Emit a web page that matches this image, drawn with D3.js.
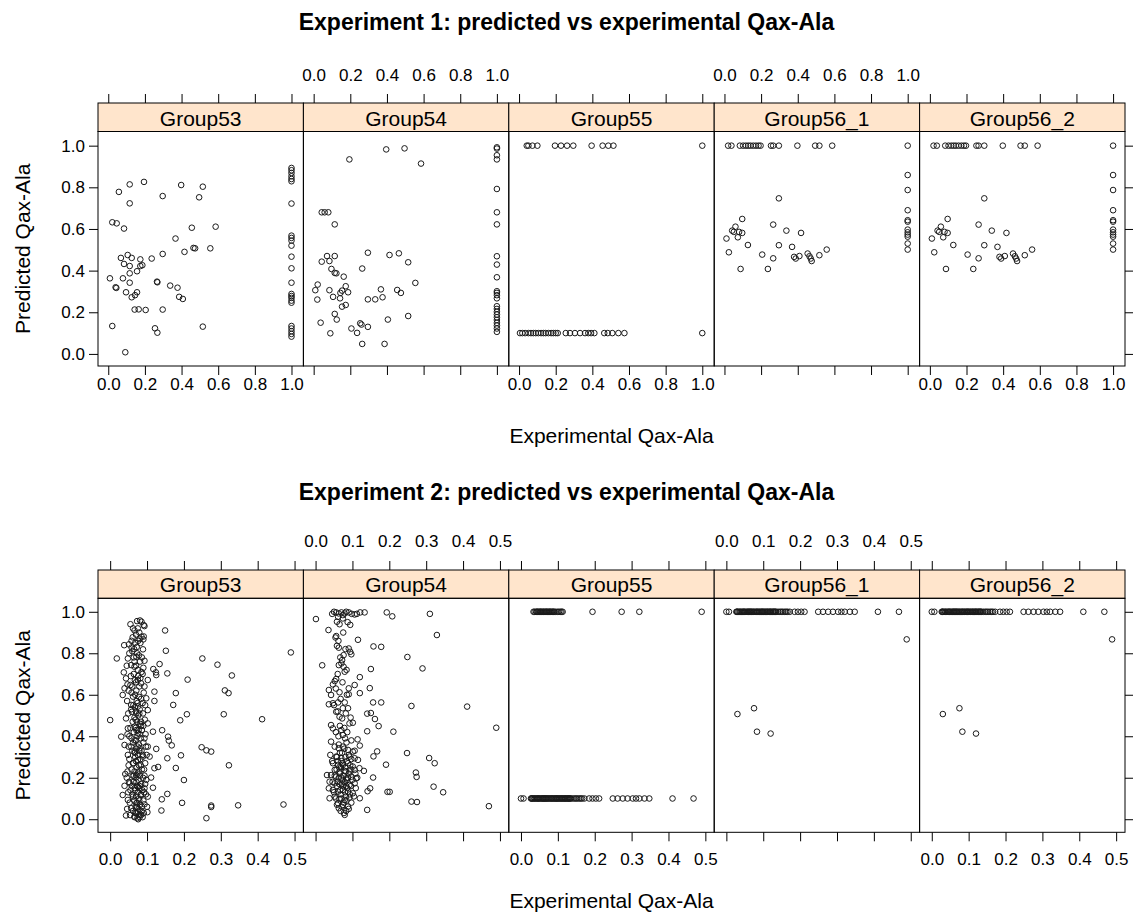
<!DOCTYPE html>
<html>
<head>
<meta charset="utf-8">
<script src="https://cdn.jsdelivr.net/npm/d3@7"></script>
<style>
  body { margin: 0; background: #fff; }
  text { font-family: "Liberation Sans", Arial, sans-serif; }
</style>
</head>
<body>
<script>
// ---- data ----
const groups = ["Group53", "Group54", "Group55", "Group56_1", "Group56_2"];
const e1Ticks = [0, 0.2, 0.4, 0.6, 0.8, 1.0];
const e2Ticks = [0, 0.1, 0.2, 0.3, 0.4, 0.5];
const yTicks = [0, 0.2, 0.4, 0.6, 0.8, 1.0];

// experiment 1, [experimental, predicted]
const e1g53 = [[0.195,0.826],[0.117,0.814],[0.398,0.811],[0.516,0.803],[0.058,0.778],[0.297,0.758],[0.496,0.752],[0.117,0.723],
  [0.022,0.632],[0.046,0.627],[0.086,0.602],[0.456,0.606],[0.586,0.611],[0.367,0.554],[0.465,0.509],[0.474,0.507],[0.557,0.507],
  [0.416,0.490],[0.297,0.480],[0.106,0.475],[0.069,0.461],[0.128,0.461],[0.175,0.454],[0.237,0.458],[0.086,0.432],[0.117,0.422],
  [0.186,0.426],[0.175,0.422],[0.157,0.397],[0.117,0.387],[0.009,0.363],[0.080,0.363],[0.117,0.342],[0.040,0.320],[0.044,0.317],
  [0.266,0.347],[0.268,0.344],[0.338,0.328],[0.378,0.318],[0.097,0.296],[0.157,0.296],[0.146,0.282],[0.128,0.272],[0.387,0.274],
  [0.407,0.264],[0.144,0.213],[0.166,0.214],[0.204,0.211],[0.297,0.213],[0.022,0.134],[0.255,0.123],[0.268,0.102],[0.516,0.131],
  [0.093,0.008],
  [1,0.893],[1,0.882],[1,0.869],[1,0.853],[1,0.840],[1,0.829],[1,0.722],[1,0.568],[1,0.557],[1,0.544],[1,0.520],[1,0.467],
  [1,0.411],[1,0.342],[1,0.288],[1,0.278],[1,0.269],[1,0.256],[1,0.246],[1,0.134],[1,0.122],[1,0.109],[1,0.096],[1,0.083]];

const e1g54 = [[0.396,0.982],[0.496,0.987],[0.195,0.934],[0.586,0.914],[0.044,0.680],[0.060,0.680],[0.080,0.680],[0.115,0.622],
  [0.296,0.486],[0.414,0.475],[0.465,0.483],[0.073,0.470],[0.115,0.470],[0.044,0.443],[0.086,0.446],[0.516,0.440],[0.097,0.408],
  [0.265,0.410],[0.115,0.389],[0.124,0.387],[0.164,0.371],[0.022,0.333],[0.175,0.325],[0.009,0.306],[0.086,0.306],[0.155,0.304],
  [0.146,0.293],[0.188,0.296],[0.367,0.310],[0.456,0.307],[0.476,0.293],[0.555,0.341],[0.106,0.274],[0.144,0.267],[0.020,0.261],
  [0.376,0.272],[0.296,0.262],[0.336,0.262],[0.155,0.227],[0.175,0.235],[0.115,0.192],[0.126,0.165],[0.038,0.150],[0.516,0.182],
  [0.405,0.165],[0.254,0.147],[0.261,0.141],[0.296,0.130],[0.206,0.122],[0.237,0.101],[0.091,0.099],[0.265,0.048],[0.387,0.048],
  [1,0.992],[1,0.986],[1,0.954],[1,0.934],[1,0.792],[1,0.680],[1,0.622],[1,0.469],[1,0.429],[1,0.368],[1,0.301],[1,0.293],
  [1,0.282],[1,0.267],[1,0.229],[1,0.216],[1,0.202],[1,0.189],[1,0.176],[1,0.163],[1,0.149],[1,0.136],[1,0.122],[1,0.106]];

const e1g55 = [[0.042,1],[0.051,1],[0.073,1],[0.100,1],[0.196,1],[0.229,1],[0.262,1],[0.296,1],[0.396,1],[0.456,1],[0.487,1],
  [0.515,1],[1,1],
  [0.005,0.1],[0.018,0.1],[0.033,0.1],[0.051,0.1],[0.065,0.1],[0.078,0.1],[0.091,0.1],[0.105,0.1],[0.120,0.1],[0.133,0.1],
  [0.145,0.1],[0.160,0.1],[0.175,0.1],[0.187,0.1],[0.200,0.1],[0.211,0.1],[0.255,0.1],[0.278,0.1],[0.305,0.1],[0.333,0.1],
  [0.360,0.1],[0.378,0.1],[0.393,0.1],[0.411,0.1],[0.465,0.1],[0.484,0.1],[0.509,0.1],[0.542,0.1],[0.575,0.1],[1,0.1]];

const e1g56 = [[0.020,1],[0.038,1],[0.084,1],[0.102,1],[0.117,1],[0.130,1],[0.142,1],[0.157,1],[0.172,1],[0.186,1],[0.197,1],
  [0.254,1],[0.266,1],[0.297,1],[0.398,1],[0.495,1],[0.518,1],[0.588,1],[1,1],
  [0.297,0.747],[0.097,0.648],[0.266,0.621],[0.060,0.611],[0.338,0.592],[0.418,0.581],[0.042,0.592],[0.051,0.586],[0.080,0.586],
  [0.097,0.581],[0.073,0.560],[0.011,0.554],[0.128,0.523],[0.297,0.522],[0.369,0.514],[0.024,0.488],[0.206,0.477],[0.266,0.459],
  [0.380,0.466],[0.409,0.470],[0.389,0.458],[0.454,0.482],[0.464,0.469],[0.471,0.458],[0.476,0.446],[0.518,0.474],[0.558,0.501],
  [0.088,0.408],[0.237,0.408],
  [1,0.859],[1,0.787],[1,0.690],[1,0.642],[1,0.635],[1,0.597],[1,0.584],[1,0.573],[1,0.563],[1,0.530],[1,0.501]];

// experiment 2
const e2g53 = [[0.149,0.910],[0.151,0.812],[0.250,0.775],[0.291,0.745],[0.330,0.693],[0.210,0.673],[0.178,0.608],[0.311,0.621],
  [0.321,0.608],[0.171,0.551],[0.208,0.506],[0.190,0.477],[0.308,0.506],[0.412,0.482],[0.490,0.804],[0.0,0.478],[0.141,0.429],
  [0.157,0.398],[0.159,0.379],[0.167,0.356],[0.248,0.347],[0.261,0.332],[0.274,0.326],[0.192,0.308],[0.155,0.294],[0.322,0.260],
  [0.178,0.247],[0.130,0.252],[0.200,0.189],[0.155,0.122],[0.140,0.096],[0.195,0.079],[0.274,0.066],[0.274,0.059],[0.347,0.067],
  [0.470,0.071],[0.261,0.005],[0.139,0.042],[0.030,0.398],
  [0.073,0.955],[0.081,0.958],[0.085,0.952],[0.091,0.936],[0.093,0.931],[0.075,0.920],[0.061,0.877],[0.091,0.881],[0.090,0.867],
  [0.038,0.839],[0.051,0.843],[0.058,0.828],[0.089,0.819],[0.018,0.775],[0.048,0.775],[0.071,0.783],[0.093,0.764],[0.057,0.743],
  [0.066,0.735],[0.037,0.708],[0.117,0.724],[0.124,0.708],[0.134,0.748],[0.043,0.679],[0.075,0.671],[0.102,0.671],[0.125,0.695],
  [0.155,0.703],[0.055,0.647],[0.084,0.655],[0.039,0.631],[0.120,0.615],[0.034,0.599],[0.062,0.591],[0.098,0.583],[0.120,0.570],
  [0.057,0.551],[0.075,0.543],[0.102,0.526],[0.059,0.518],[0.071,0.510],[0.043,0.486],[0.084,0.470],[0.102,0.462],[0.066,0.446],
  [0.048,0.438],[0.116,0.422],[0.075,0.414],[0.093,0.390],[0.039,0.358],[0.057,0.350],[0.080,0.342],[0.102,0.350],[0.125,0.339],
  [0.066,0.326],[0.048,0.310],[0.089,0.302],[0.107,0.302],[0.075,0.286],[0.062,0.270],[0.120,0.246],[0.041,0.218],[0.071,0.213],
  [0.093,0.210],[0.111,0.201],[0.053,0.173],[0.039,0.161],[0.075,0.157],[0.093,0.149],[0.116,0.152],[0.034,0.117],[0.062,0.109],
  [0.084,0.117],[0.102,0.109],[0.048,0.093],[0.071,0.077],[0.093,0.072],[0.057,0.053],[0.075,0.037],[0.043,0.018],[0.066,0.013],
  [0.084,0.021],[0.101,0.034],
  [0.068,0.60],[0.078,0.59],[0.072,0.57],[0.063,0.55],[0.080,0.53],[0.070,0.52],[0.076,0.50],[0.066,0.49],[0.073,0.47],[0.081,0.46],
  [0.069,0.44],[0.077,0.43],[0.064,0.42],[0.074,0.40],[0.083,0.39],[0.070,0.38],[0.062,0.37],[0.078,0.36],[0.071,0.34],[0.085,0.33],
  [0.067,0.32],[0.075,0.31],[0.082,0.29],[0.070,0.28],[0.063,0.27],[0.078,0.26],[0.072,0.25],[0.086,0.24],[0.066,0.23],[0.074,0.22],
  [0.081,0.21],[0.069,0.20],[0.077,0.19],[0.063,0.18],[0.084,0.17],[0.072,0.16],[0.079,0.15],[0.067,0.14],[0.075,0.13],[0.083,0.12],
  [0.070,0.11],[0.078,0.10],[0.065,0.09],[0.073,0.08],[0.081,0.07],[0.069,0.06],[0.077,0.05],[0.085,0.04],[0.071,0.03],[0.079,0.02],
  [0.066,0.01],[0.074,0.005],[0.088,0.01],[0.060,0.64],[0.070,0.66],[0.082,0.68],[0.064,0.70],[0.075,0.72],[0.066,0.76],[0.078,0.79],
  [0.060,0.81],[0.072,0.83],[0.082,0.85],[0.058,0.86],[0.070,0.89],[0.079,0.90],[0.050,0.26],[0.045,0.20],[0.055,0.14],[0.095,0.27],
  [0.098,0.19],[0.092,0.13],[0.100,0.06],[0.046,0.05],[0.090,0.45],[0.052,0.40],[0.088,0.56],[0.050,0.62],
  [0.055,0.94],[0.062,0.92],[0.080,0.87],[0.068,0.85],[0.052,0.80],[0.086,0.78],[0.064,0.78],[0.045,0.74],[0.090,0.73],[0.056,0.69],
  [0.088,0.70],[0.047,0.65],[0.093,0.64],[0.058,0.61],[0.091,0.61],[0.046,0.57],[0.095,0.55],[0.057,0.53],[0.089,0.51],[0.049,0.51],
  [0.061,0.47],[0.094,0.48],[0.055,0.44],[0.086,0.43],[0.047,0.41],[0.096,0.41],[0.058,0.39],[0.090,0.37],[0.050,0.35],[0.097,0.35],
  [0.060,0.33],[0.088,0.31],[0.052,0.29],[0.099,0.31],[0.058,0.24],[0.092,0.24],[0.047,0.23],[0.061,0.21],[0.089,0.20],[0.051,0.18],
  [0.095,0.17],[0.059,0.16],[0.087,0.14],[0.049,0.13],[0.097,0.12],[0.060,0.12],[0.090,0.09],[0.053,0.08],[0.086,0.06],[0.062,0.04],
  [0.091,0.03],[0.054,0.02],[0.080,0.01],[0.076,0.0],[0.068,0.03],[0.073,0.06],[0.079,0.09],[0.067,0.15],[0.080,0.16],[0.071,0.18],
  [0.064,0.21],[0.077,0.23],[0.083,0.26],[0.068,0.30],[0.079,0.33],[0.074,0.35],[0.066,0.38],[0.080,0.41],[0.071,0.43],[0.084,0.45],
  [0.069,0.48],[0.079,0.51],[0.067,0.54],[0.074,0.56],[0.084,0.58],[0.071,0.62],[0.079,0.64],[0.067,0.67],[0.076,0.69],[0.085,0.71],
  [0.070,0.74],[0.081,0.76],[0.073,0.80],[0.065,0.82],[0.076,0.86],[0.085,0.88],[0.066,0.91]];

const e2g54 = [[0.001,0.965],[0.035,0.912],[0.094,0.937],[0.115,0.865],[0.157,0.833],[0.178,0.831],[0.193,0.997],[0.208,0.978],
  [0.310,0.990],[0.329,0.888],[0.249,0.782],[0.290,0.727],[0.018,0.742],[0.150,0.724],[0.120,0.685],[0.147,0.632],[0.120,0.608],
  [0.156,0.563],[0.178,0.563],[0.260,0.546],[0.411,0.543],[0.490,0.441],[0.140,0.509],[0.150,0.512],[0.161,0.483],[0.171,0.449],
  [0.140,0.424],[0.211,0.422],[0.114,0.385],[0.120,0.355],[0.167,0.327],[0.157,0.303],[0.248,0.319],[0.308,0.295],[0.323,0.270],
  [0.191,0.263],[0.131,0.233],[0.156,0.201],[0.272,0.225],[0.274,0.204],[0.320,0.157],[0.346,0.130],[0.195,0.132],[0.201,0.132],
  [0.141,0.135],[0.148,0.149],[0.120,0.101],[0.260,0.085],[0.275,0.083],[0.470,0.063],[0.140,0.045],[0.031,0.213],
  [0.050,1.0],[0.056,0.997],[0.063,0.992],[0.070,0.997],[0.074,0.984],[0.079,0.992],[0.083,1.0],[0.090,0.997],[0.074,0.968],
  [0.061,0.976],[0.106,0.987],[0.121,0.997],[0.133,0.997],[0.058,0.952],
  [0.056,0.883],[0.054,0.876],[0.058,0.836],[0.063,0.827],[0.090,0.823],[0.094,0.807],[0.097,0.795],[0.076,0.791],[0.072,0.767],
  [0.070,0.751],[0.063,0.743],[0.076,0.735],[0.079,0.711],[0.056,0.676],[0.052,0.666],[0.047,0.650],[0.106,0.647],[0.090,0.631],
  [0.090,0.602],[0.065,0.612],[0.036,0.623],[0.042,0.599],[0.036,0.554],[0.047,0.559],[0.061,0.563],[0.079,0.563],[0.074,0.535],
  [0.088,0.535],[0.056,0.518],[0.065,0.494],[0.072,0.486],[0.092,0.462],[0.101,0.465],[0.042,0.454],[0.047,0.438],[0.070,0.430],
  [0.074,0.406],[0.042,0.374],[0.052,0.350],[0.063,0.342],[0.074,0.350],[0.088,0.334],[0.101,0.326],[0.040,0.310],[0.056,0.302],
  [0.070,0.294],[0.092,0.302],[0.106,0.294],[0.115,0.286],[0.047,0.270],[0.061,0.262],[0.074,0.262],[0.088,0.270],[0.101,0.254],
  [0.052,0.238],[0.065,0.230],[0.079,0.233],[0.092,0.230],[0.106,0.238],[0.119,0.246],[0.042,0.213],[0.056,0.205],[0.070,0.201],
  [0.083,0.197],[0.097,0.205],[0.110,0.197],[0.038,0.181],[0.052,0.173],[0.065,0.169],[0.079,0.178],[0.092,0.165],[0.106,0.173],
  [0.036,0.149],[0.047,0.141],[0.061,0.133],[0.074,0.141],[0.088,0.133],[0.101,0.125],[0.038,0.101],[0.052,0.109],[0.065,0.098],
  [0.079,0.093],[0.092,0.104],[0.061,0.077],[0.074,0.069],[0.088,0.061],[0.063,0.053],[0.079,0.021],
  [0.070,0.28],[0.080,0.25],[0.066,0.22],[0.085,0.19],[0.075,0.16],[0.068,0.12],[0.082,0.11],[0.060,0.18],[0.090,0.22],[0.072,0.32],
  [0.084,0.37],[0.062,0.40],[0.078,0.44],[0.058,0.30],[0.094,0.26],[0.076,0.08],[0.086,0.15],[0.064,0.25],[0.073,0.19],[0.081,0.30],
  [0.066,0.32],[0.078,0.34],[0.090,0.31],[0.060,0.28],[0.073,0.27],[0.085,0.28],[0.097,0.29],[0.057,0.24],[0.069,0.25],[0.082,0.23],
  [0.095,0.24],[0.108,0.22],[0.052,0.21],[0.063,0.20],[0.076,0.21],[0.088,0.20],[0.100,0.19],[0.113,0.20],[0.046,0.18],[0.058,0.16],
  [0.071,0.17],[0.083,0.16],[0.096,0.16],[0.109,0.15],[0.050,0.13],[0.067,0.14],[0.080,0.13],[0.093,0.12],[0.104,0.11],[0.055,0.10],
  [0.070,0.10],[0.084,0.09],[0.097,0.08],[0.058,0.07],[0.071,0.06],[0.083,0.04],[0.068,0.04],[0.077,0.03],[0.090,0.05],[0.045,0.28],
  [0.106,0.33],[0.063,0.36],[0.080,0.39],[0.097,0.38],[0.055,0.42],[0.086,0.42],[0.066,0.45],[0.095,0.49],[0.060,0.52],[0.082,0.51],
  [0.050,0.55],[0.068,0.58],[0.085,0.60],[0.055,0.63],[0.073,0.66],[0.060,0.70],[0.084,0.72],[0.067,0.78],[0.081,0.82],[0.062,0.86],
  [0.075,0.90],[0.087,0.95],[0.065,0.94],[0.098,0.99],[0.112,0.99],[0.045,0.99]];

// Group55: predicted 1.0 for these experimental values
const e2g55Hi = [0.034,0.037,0.041,0.043,0.045,0.047,0.050,0.052,0.054,0.056,0.059,0.061,0.063,0.066,0.068,0.070,0.072,0.075,
  0.077,0.079,0.081,0.084,0.086,0.088,0.090,0.094,0.099,0.103,0.107,0.110,0.113,0.194,0.273,0.321,0.490];
// long row: Group55 predicted 0.1, Group56 predicted 1.0
const e2Row = [0.0,0.007,0.027,0.029,0.030,0.033,0.036,0.038,0.041,0.044,0.046,0.048,0.050,0.053,0.056,0.058,0.060,0.062,0.064,
  0.066,0.068,0.070,0.073,0.075,0.078,0.081,0.083,0.085,0.088,0.090,0.093,0.095,0.097,0.099,0.101,0.104,0.106,0.109,0.111,
  0.113,0.116,0.118,0.120,0.122,0.125,0.127,0.129,0.131,0.133,0.135,0.140,0.145,0.149,0.153,0.158,0.162,0.166,0.172,0.185,
  0.194,0.203,0.212,0.249,0.262,0.276,0.289,0.303,0.312,0.321,0.335,0.348,0.411,0.468];
// Group56 (both) extra points
const e2g56Mid = [[0.489,0.867],[0.030,0.507],[0.075,0.535],[0.083,0.422],[0.120,0.413]];

const e2g55 = e2g55Hi.map(v => [v, 1]).concat(e2Row.map(v => [v, 0.1]));
const e2g56 = e2Row.map(v => [v, 1]).concat(e2g56Mid);

// ---- layout ----
const width = 1133, height = 914;
const plotLeft = 98, plotRight = 1125;
const pw = (plotRight - plotLeft) / groups.length;

const svg = d3.select("body").append("svg")
  .attr("width", width).attr("height", height)
  .style("background", "#ffffff");

const drawExperiment = (opt) => {
  const y = d3.scaleLinear().domain(opt.yDomain).range([opt.panelBottom, opt.panelTop]);
  const fmt = d3.format(".1f");

  svg.append("text")
    .attr("x", width / 2).attr("y", opt.titleY)
    .attr("text-anchor", "middle").attr("font-size", 23).attr("font-weight", "bold")
    .text(opt.title);

  opt.series.forEach((pts, i) => {
    const x0 = plotLeft + i * pw;
    const x = d3.scaleLinear().domain(opt.xDomain).range([x0, x0 + pw]);

    // strip
    svg.append("rect")
      .attr("x", x0).attr("y", opt.stripTop)
      .attr("width", pw).attr("height", opt.panelTop - opt.stripTop)
      .attr("fill", "#ffe5cc").attr("stroke", "#000").attr("stroke-width", 1);
    svg.append("text")
      .attr("x", x0 + pw / 2).attr("y", opt.panelTop - 6)
      .attr("text-anchor", "middle").attr("font-size", 21)
      .text(groups[i]);

    // points
    svg.append("g").selectAll("circle").data(pts).enter().append("circle")
      .attr("cx", d => x(d[0])).attr("cy", d => y(d[1]))
      .attr("r", 2.8).attr("fill", "none")
      .attr("stroke", "#1a1a1a").attr("stroke-width", 1);

    // panel frame
    svg.append("rect")
      .attr("x", x0).attr("y", opt.panelTop)
      .attr("width", pw).attr("height", opt.panelBottom - opt.panelTop)
      .attr("fill", "none").attr("stroke", "#000").attr("stroke-width", 1);

    // alternating x axes (labels bottom for 1,3,5 and top for 2,4)
    const bottom = d3.axisBottom(x).tickValues(opt.xTicks).tickSize(9).tickPadding(opt.botPad)
      .tickFormat(i % 2 === 0 ? fmt : () => "");
    const gb = svg.append("g").attr("transform", `translate(0,${opt.panelBottom})`).call(bottom);
    const top = d3.axisTop(x).tickValues(opt.xTicks).tickSize(9).tickPadding(opt.topPad)
      .tickFormat(i % 2 === 1 ? fmt : () => "");
    const gt = svg.append("g").attr("transform", `translate(0,${opt.stripTop})`).call(top);
    [gb, gt].forEach(g => {
      g.select(".domain").remove();
      g.attr("font-size", 17).attr("font-family", "Liberation Sans, Arial, sans-serif");
      g.selectAll("text").attr("fill", "#000");
    });
  });

  // y axes
  const left = d3.axisLeft(y).tickValues(yTicks).tickSize(9).tickPadding(4).tickFormat(fmt);
  const gl = svg.append("g").attr("transform", `translate(${plotLeft},0)`).call(left);
  const right = d3.axisRight(y).tickValues(yTicks).tickSize(8).tickFormat(() => "");
  const gr = svg.append("g").attr("transform", `translate(${plotRight},0)`).call(right);
  [gl, gr].forEach(g => {
    g.select(".domain").remove();
    g.attr("font-size", 17).attr("font-family", "Liberation Sans, Arial, sans-serif");
    g.selectAll("text").attr("fill", "#000");
  });

  // axis titles
  svg.append("text")
    .attr("x", (plotLeft + plotRight) / 2).attr("y", opt.xlabY)
    .attr("text-anchor", "middle").attr("font-size", 21)
    .text("Experimental Qax-Ala");
  const yc = (opt.panelTop + opt.panelBottom) / 2;
  svg.append("text")
    .attr("transform", `translate(30,${yc}) rotate(-90)`)
    .attr("text-anchor", "middle").attr("font-size", 21)
    .text("Predicted Qax-Ala");
};

drawExperiment({
  title: "Experiment 1: predicted vs experimental Qax-Ala",
  titleY: 30, stripTop: 103, panelTop: 131.5, panelBottom: 366, xlabY: 443,
  botPad: 3, topPad: 13,
  xDomain: [-0.056, 1.065], yDomain: [-0.058, 1.068], xTicks: e1Ticks,
  series: [e1g53, e1g54, e1g55, e1g56, e1g56]
});

drawExperiment({
  title: "Experiment 2: predicted vs experimental Qax-Ala",
  titleY: 500, stripTop: 570, panelTop: 598.3, panelBottom: 832.3, xlabY: 908,
  botPad: 12, topPad: 14,
  xDomain: [-0.033, 0.524], yDomain: [-0.063, 1.065], xTicks: e2Ticks,
  series: [e2g53, e2g54, e2g55, e2g56, e2g56]
});
</script>
</body>
</html>
